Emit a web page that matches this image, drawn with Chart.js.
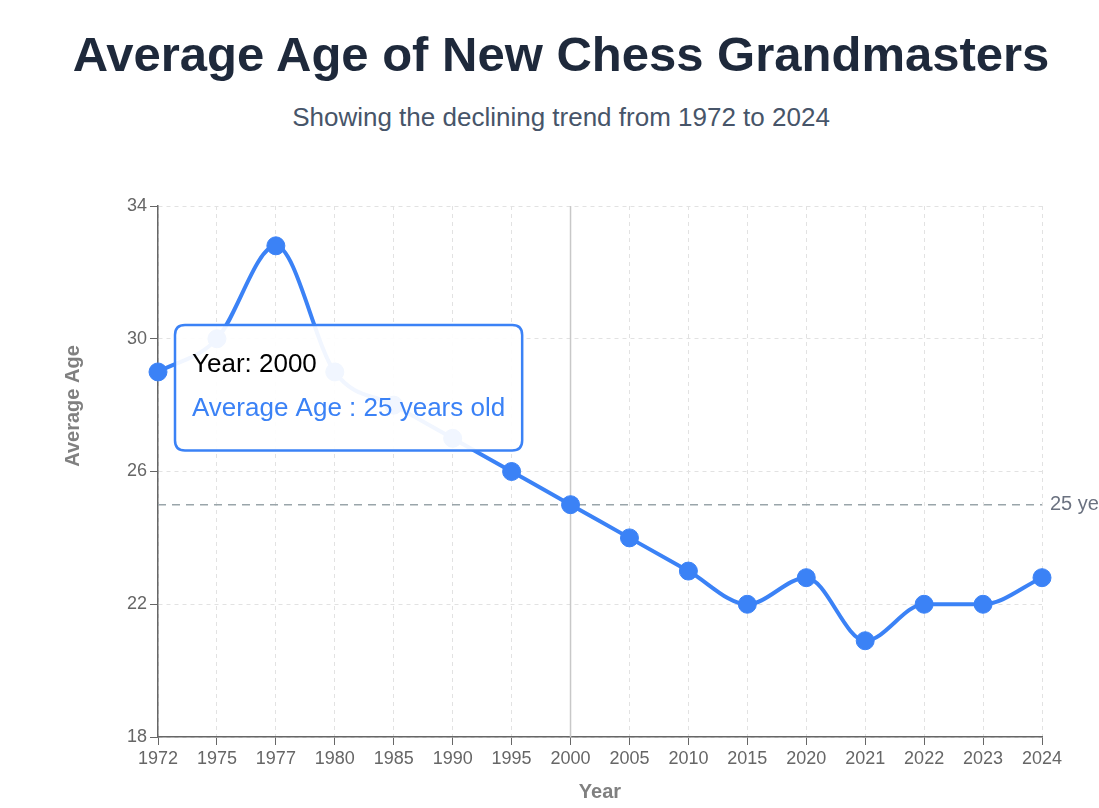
<!DOCTYPE html>
<html>
<head>
<meta charset="utf-8">
<script src="https://cdn.jsdelivr.net/npm/chart.js@4"></script>
<style>
  html, body { margin: 0; padding: 0; background: #ffffff; overflow: hidden; }
  body { width: 1099px; height: 808px; position: relative; font-family: "Liberation Sans", Arial, Helvetica, sans-serif; }
  #title { position: absolute; left: 0; width: 1122px; top: 30px; text-align: center; font-size: 49px; line-height: 48px; font-weight: bold; color: #1e293b; white-space: nowrap; }
  #subtitle { position: absolute; left: 0; width: 1122px; top: 104px; text-align: center; font-size: 26px; line-height: 26px; color: #475569; white-space: nowrap; }
  #wrap { position: absolute; left: 0; top: 160px; width: 1099px; height: 648px; }
</style>
</head>
<body>
<div id="title">Average Age of New Chess Grandmasters</div>
<div id="subtitle">Showing the declining trend from 1972 to 2024</div>
<div id="wrap"><canvas id="c" width="1099" height="648"></canvas></div>
<script>
const years = ["1972","1975","1977","1980","1985","1990","1995","2000","2005","2010","2015","2020","2021","2022","2023","2024"];
const averageAges = [29, 30, 32.8, 29, 28, 27, 26, 25, 24, 23, 22, 22.8, 20.9, 22, 22, 22.8];
const yTicks = [18, 22, 26, 30, 34];
const referenceAge = 25;
const highlightedIndex = 7;
const yAxisTitle = 'Average Age';
const xAxisTitle = 'Year';

const BLUE = '#3b82f6';
const FONT = '"Liberation Sans", Arial, sans-serif';

const refLinePlugin = {
  id: 'refLine',
  beforeDatasetsDraw(chart) {
    const {ctx, chartArea, scales} = chart;
    const act = chart.tooltip ? chart.tooltip.getActiveElements() : [];
    if (act.length) {
      const x = act[0].element.x;
      ctx.save();
      ctx.strokeStyle = '#c8c8c8';
      ctx.lineWidth = 1.5;
      ctx.beginPath();
      ctx.moveTo(x, chartArea.top);
      ctx.lineTo(x, chartArea.bottom);
      ctx.stroke();
      ctx.restore();
    }
    const y = scales.y.getPixelForValue(referenceAge);
    ctx.save();
    ctx.strokeStyle = '#9aa5aa';
    ctx.lineWidth = 1.5;
    ctx.setLineDash([8, 6]);
    ctx.beginPath();
    ctx.moveTo(chartArea.left, y);
    ctx.lineTo(chartArea.right, y);
    ctx.stroke();
    ctx.setLineDash([]);
    ctx.fillStyle = '#6b7280';
    ctx.font = '20px ' + FONT;
    ctx.textAlign = 'left';
    ctx.textBaseline = 'middle';
    ctx.fillText(referenceAge + ' years', chartArea.right + 8, y);
    ctx.restore();
  },
  afterDraw(chart) {
    const {ctx} = chart;
    ctx.save();
    ctx.translate(73, 246);
    ctx.rotate(-Math.PI / 2);
    ctx.fillStyle = '#808080';
    ctx.font = 'bold 20px ' + FONT;
    ctx.textAlign = 'center';
    ctx.textBaseline = 'middle';
    ctx.fillText(yAxisTitle, 0, 0);
    ctx.restore();
  }
};

Chart.Tooltip.positioners.fixedLeft = function(elements, eventPosition) {
  const ca = this.chart.chartArea;
  return { x: ca.left + 27, y: ca.top + 119 };
};

const chart = new Chart(document.getElementById('c'), {
  type: 'line',
  data: {
    labels: years,
    datasets: [{
      label: 'Average Age',
      data: averageAges,
      borderColor: BLUE,
      backgroundColor: BLUE,
      borderWidth: 4,
      pointRadius: 9,
      pointHoverRadius: 9,
      pointBackgroundColor: BLUE,
      pointBorderColor: BLUE,
      pointBorderWidth: 1,
      cubicInterpolationMode: 'monotone',
      fill: false
    }]
  },
  plugins: [refLinePlugin],
  options: {
    responsive: false,
    animation: false,
    events: [],
    layout: { padding: { left: 58, right: 57, top: 46, bottom: 0 } },
    plugins: {
      legend: { display: false },
      title: { display: false },
      tooltip: {
        enabled: true,
        position: 'fixedLeft',
        xAlign: 'left',
        yAlign: 'top',
        caretSize: 0,
        caretPadding: 0,
        backgroundColor: 'rgba(255,255,255,0.93)',
        borderColor: BLUE,
        borderWidth: 2.5,
        cornerRadius: 10,
        displayColors: false,
        padding: { top: 24, bottom: 26, left: 17, right: 17 },
        titleColor: '#000000',
        titleFont: { family: FONT, size: 26, weight: 'normal' },
        titleMarginBottom: 13,
        bodyColor: BLUE,
        bodyFont: { family: FONT, size: 26 },
        callbacks: {
          title: (items) => 'Year: ' + items[0].label,
          label: (item) => 'Average Age : ' + item.parsed.y + ' years old'
        }
      }
    },
    scales: {
      x: {
        type: 'category',
        offset: false,
        grid: { color: '#e2e2e2', tickColor: '#666', tickLength: 8, tickBorderDash: [], lineWidth: 1 },
        border: { display: true, color: '#666', width: 1.5, dash: [4, 4] },
        ticks: { color: '#666', font: { family: FONT, size: 18 }, padding: 3, maxRotation: 0, autoSkip: false },
        title: { display: true, text: xAxisTitle, color: '#808080', font: { family: FONT, size: 20, weight: 'bold' }, padding: { top: 4, bottom: 4 } },
        afterFit(scale) { scale.height = 71; }
      },
      y: {
        min: 18,
        max: 34,
        afterBuildTicks(scale) { scale.ticks = yTicks.map(v => ({ value: v })); },
        grid: { color: '#e2e2e2', tickColor: '#666', tickLength: 8, tickBorderDash: [], lineWidth: 1 },
        border: { display: true, color: '#666', width: 1.5, dash: [4, 4] },
        ticks: { color: '#666', font: { family: FONT, size: 18 }, padding: 3 },
        title: { display: false },
        afterFit(scale) { scale.width = 100; }
      }
    }
  }
});

chart.tooltip.setActiveElements([{ datasetIndex: 0, index: highlightedIndex }], { x: 0, y: 0 });
chart.update();
</script>
</body>
</html>
